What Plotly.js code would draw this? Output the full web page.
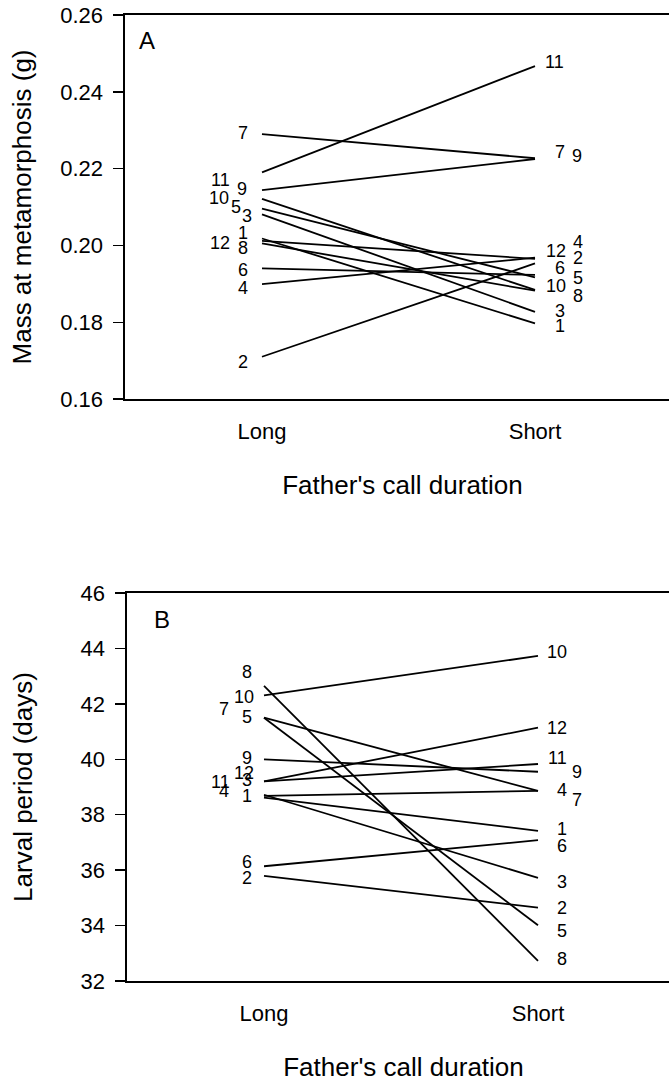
<!DOCTYPE html>
<html>
<head>
<meta charset="utf-8">
<script src="https://cdn.plot.ly/plotly-3.0.1.min.js"></script>
<style>
html,body{margin:0;padding:0;overflow:hidden;background:#fff;}
#chart{width:680px;height:1082px;}
</style>
</head>
<body>
<div id="chart"></div>
<script>
// ---- Data ----
const families = ["1","2","3","4","5","6","7","8","9","10","11","12"];
const treatments = ["Long","Short"];
// Panel A: mass at metamorphosis (g)
const massLong  = [0.2018,0.1710,0.2081,0.1899,0.2096,0.1940,0.2290,0.2005,0.2144,0.2121,0.2190,0.2012];
const massShort = [0.1797,0.1953,0.1827,0.1968,0.1917,0.1923,0.2227,0.1882,0.2225,0.1884,0.2467,0.1965];
// Panel B: larval period (days)
const larvLong  = [38.62,35.79,38.72,38.68,41.5,36.14,41.5,42.65,40.0,42.31,39.2,39.2];
const larvShort = [37.42,34.65,35.72,38.86,34.01,37.08,38.86,32.73,39.55,43.73,39.83,41.14];
const massTicks = [0.16,0.18,0.20,0.22,0.24,0.26];
const larvTicks = [32,34,36,38,40,42,44,46];

// ---- Label placement offsets (pixels) ----
const offA = {
  left:  [[-19,5],[-19,-5],[-15,-2],[-19,-4],[-26,2],[-19,-2],[-19,1],[-19,-5],[-20,1],[-43,1],[-42,-8],[-42,-2]],
  right: [[25,-3],[43,5],[25,1],[43,16],[43,-1],[25,7],[25,6],[43,-5],[42,3],[21,4],[19,4],[21,8]]
};
const offB = {
  left:  [[-17,2],[-17,-2],[-17,15],[-40,5],[-17,1],[-17,4],[-40,9],[-17,14],[-17,1],[-20,-2],[-44,-1],[-20,8]],
  right: [[24,2],[24,0],[24,-4],[24,1],[24,-6],[24,-6],[39,-9],[24,2],[39,0],[19,4],[19,6],[19,0]]
};

const FONT = "Liberation Sans, Arial, Helvetica, sans-serif";
const traces = [];
const annotations = [];
families.forEach((f,i)=>{
  traces.push({x:[0,1], y:[massLong[i],massShort[i]], xaxis:'x', yaxis:'y', mode:'lines',
    line:{color:'#000',width:1.8}, hoverinfo:'skip', showlegend:false});
  traces.push({x:[0,1], y:[larvLong[i],larvShort[i]], xaxis:'x2', yaxis:'y2', mode:'lines',
    line:{color:'#000',width:1.8}, hoverinfo:'skip', showlegend:false});
  const mk = (xr,yr,x,y,o)=>({xref:xr,yref:yr,x:x,y:y,text:f,showarrow:false,
    xanchor:'center',yanchor:'middle',xshift:o[0],yshift:o[1],
    font:{family:FONT,size:18,color:'#000'}});
  annotations.push(mk('x','y',0,massLong[i],offA.left[i]));
  annotations.push(mk('x','y',1,massShort[i],offA.right[i]));
  annotations.push(mk('x2','y2',0,larvLong[i],offB.left[i]));
  annotations.push(mk('x2','y2',1,larvShort[i],offB.right[i]));
});
annotations.push({xref:'paper',yref:'paper',x:(147-125)/555,y:(1082-40.7)/1082,text:'A',showarrow:false,
  xanchor:'center',yanchor:'middle',font:{family:FONT,size:24,color:'#000'}});
annotations.push({xref:'paper',yref:'paper',x:(161.7-125)/555,y:(1082-620)/1082,text:'B',showarrow:false,
  xanchor:'center',yanchor:'middle',font:{family:FONT,size:24,color:'#000'}});

const xCommon = {tickmode:'array', tickvals:[0,1], ticktext:treatments, ticks:'', showgrid:false, zeroline:false,
  showline:true, mirror:true, linecolor:'#000', linewidth:1.6, tickfont:{family:FONT,size:22,color:'#000'},
  ticklabelstandoff:12, fixedrange:true};
const yCommon = {ticks:'outside', ticklen:10, tickwidth:1.4, tickcolor:'#000', showgrid:false, zeroline:false,
  showline:true, linecolor:'#000', linewidth:1.6, tickfont:{family:FONT,size:22,color:'#000'},
  ticklabelstandoff:6, tickmode:'array', fixedrange:true};

const layout = {
  width:680, height:1082,
  margin:{l:125,r:0,t:0,b:0},
  paper_bgcolor:'#fff', plot_bgcolor:'#fff',
  font:{family:FONT,color:'#000'},
  showlegend:false,
  xaxis: Object.assign({}, xCommon, {domain:[0,1], range:[-137/273, -137/273+555/273], anchor:'y',
    title:{text:"Father's call duration", font:{family:FONT,size:26,color:'#000'}, standoff:33}}),
  yaxis: Object.assign({}, yCommon, {domain:[(1082-399)/1082,(1082-15)/1082], range:[0.16,0.26], anchor:'x',
    tickvals:massTicks, tickformat:'.2f',
    title:{text:'Mass at metamorphosis (g)', font:{family:FONT,size:26,color:'#000'}, standoff:21}}),
  xaxis2: Object.assign({}, xCommon, {domain:[2/555,1], range:[-137/274, -137/274+553/274], anchor:'y2',
    title:{text:"Father's call duration", font:{family:FONT,size:26,color:'#000'}, standoff:34}}),
  yaxis2: Object.assign({}, yCommon, {domain:[(1082-981)/1082,(1082-593)/1082], range:[32,46], anchor:'x2',
    tickvals:larvTicks,
    title:{text:'Larval period (days)', font:{family:FONT,size:26,color:'#000'}, standoff:40}}),
  annotations: annotations
};
Plotly.newPlot('chart', traces, layout, {staticPlot:true, displayModeBar:false});
</script>
</body>
</html>
